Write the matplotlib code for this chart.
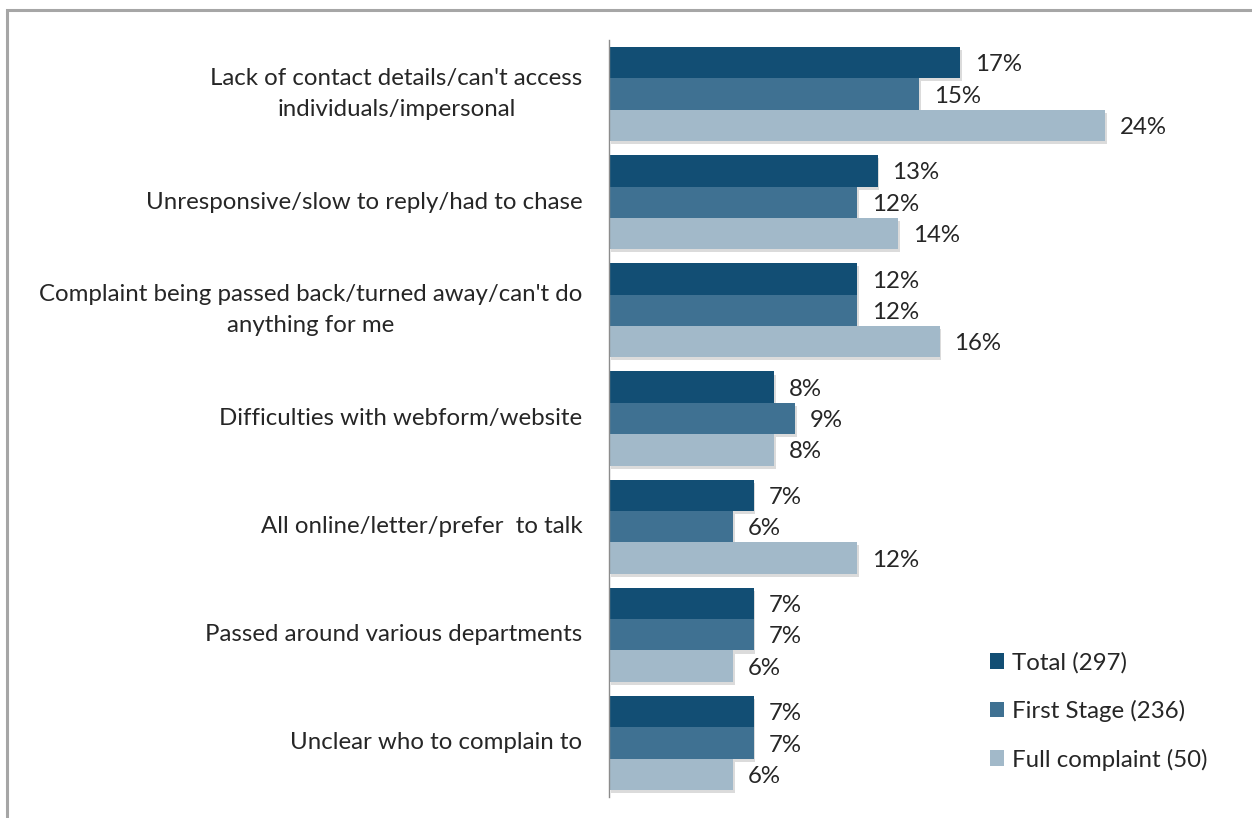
import matplotlib
matplotlib.use("Agg")
import matplotlib.pyplot as plt
import matplotlib.patheffects as pe
from matplotlib.patches import Patch, Rectangle
import numpy as np

categories = [
    "Lack of contact details/can't access\nindividuals/impersonal",
    "Unresponsive/slow to reply/had to chase",
    "Complaint being passed back/turned away/can't do\nanything for me",
    "Difficulties with webform/website",
    "All online/letter/prefer  to talk",
    "Passed around various departments",
    "Unclear who to complain to",
]
series_names = ["Total (297)", "First Stage (236)", "Full complaint (50)"]
total = [17, 13, 12, 8, 7, 7, 7]
first_stage = [15, 12, 12, 9, 6, 7, 7]
full_complaint = [24, 14, 16, 8, 12, 6, 6]
colors = ["#124E74", "#3F7192", "#A2B9C9"]

W, H = 1252, 818
fig = plt.figure(figsize=(W / 100, H / 100), dpi=100)
plt.rcParams["font.family"] = ["Lato", "DejaVu Sans"]
fs = 17.3

# outer frame
fig.patches.append(Rectangle((7 / W, -0.1), 1.2, 1 - 10 / H + 0.1, transform=fig.transFigure,
                             fill=False, edgecolor="#A6A6A6", linewidth=2.2))

ax = fig.add_axes([609 / W, 1 - 797 / H, 620 / W, 757 / H])
y = np.arange(len(categories))
bh = 0.29
shadow = [pe.SimplePatchShadow(offset=(1.2, -2.2), shadow_rgbFace="#999999", alpha=0.35), pe.Normal()]
txt_color = "#262626"
for k, vals in enumerate([total, first_stage, full_complaint]):
    pos = y + (k - 1) * bh
    bars = ax.barh(pos, vals, height=bh, color=colors[k], label=series_names[k], zorder=2)
    for b in bars:
        b.set_path_effects(shadow)
    for p, v in zip(pos, vals):
        ax.annotate(f"{v}%", (v, p), xytext=(10.5, -1.5), textcoords="offset points",
                    ha="left", va="center", fontsize=fs, color=txt_color)

ax.set_xlim(0, 30)
ax.set_ylim(6.5, -0.5)
ax.set_yticks(y)
ax.set_yticklabels(categories, fontsize=fs, color=txt_color, multialignment="center",
                   linespacing=1.6, va="center")
ax.tick_params(axis="y", length=0, pad=19)
ax.set_xticks([])
for s in ["top", "right", "bottom"]:
    ax.spines[s].set_visible(False)
ax.spines["left"].set_color("#8C8C8C")
ax.spines["left"].set_linewidth(1.0)

handles = [Patch(facecolor=c, edgecolor="none") for c in colors]
fig.legend(handles, series_names, loc="upper left",
           bbox_to_anchor=(990 / W, 1 - 652 / H), frameon=False,
           fontsize=fs, handlelength=0.6, handleheight=0.6, handletextpad=0.3,
           labelspacing=1.1, labelcolor=txt_color, borderaxespad=0, borderpad=0)

fig.savefig("out.png", dpi=100, facecolor="white")
